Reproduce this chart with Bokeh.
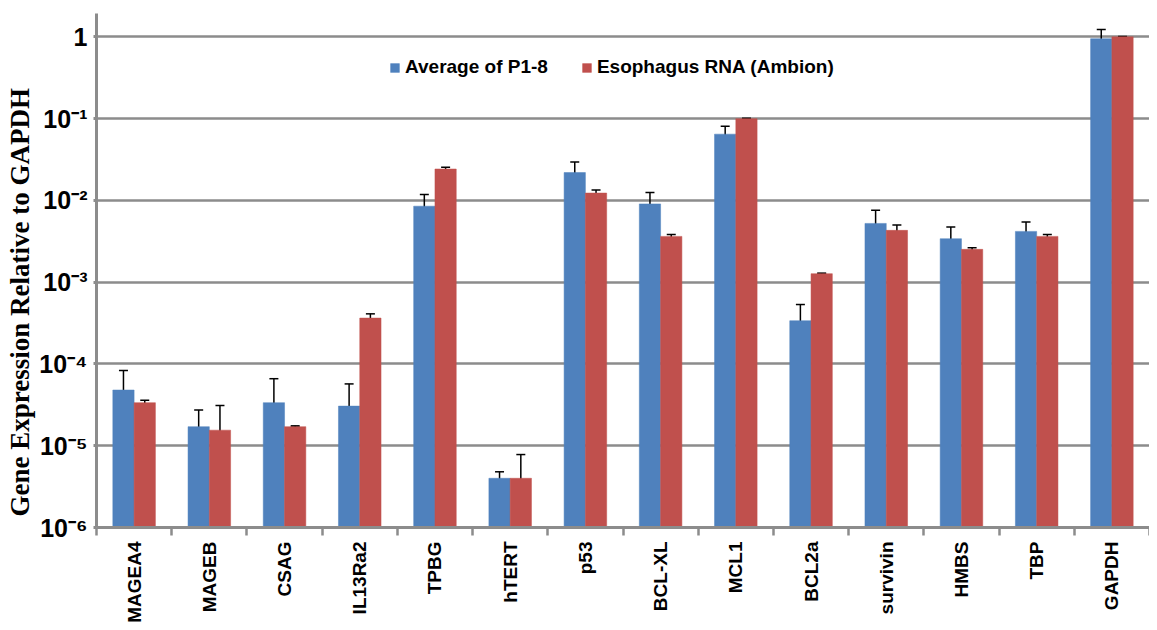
import math
from bokeh.plotting import figure
from bokeh.models import (Range1d, FixedTicker, CustomJSTickFormatter, Whisker, TeeHead,
                          ColumnDataSource, Title)
from bokeh.embed import file_html
from bokeh.resources import INLINE

# ---------------- data ----------------
genes = ["MAGEA4", "MAGEB", "CSAG", "IL13Ra2", "TPBG", "hTERT", "p53", "BCL-XL",
         "MCL1", "BCL2a", "survivin", "HMBS", "TBP", "GAPDH"]

avg_p18 = [4.8e-5, 1.71e-5, 3.36e-5, 3.05e-5, 8.5e-3, 4.0e-6, 2.19e-2, 9.06e-3,
           6.46e-2, 3.38e-4, 5.23e-3, 3.4e-3, 4.18e-3, 0.95]
avg_p18_hi = [8.3e-5, 2.73e-5, 6.6e-5, 5.7e-5, 1.18e-2, 4.8e-6, 2.94e-2, 1.25e-2,
              8.07e-2, 5.33e-4, 7.6e-3, 4.72e-3, 5.43e-3, 1.23]
avg_p18_lo = [1.04e-5, 7.8e-6, 2.0e-6, 4.2e-6, 5.1e-3, 3.3e-6, 1.38e-2, 5.4e-3,
              4.7e-2, 1.39e-4, 2.79e-3, 2.02e-3, 2.71e-3, 0.68]

esophagus = [3.36e-5, 1.55e-5, 1.71e-5, 3.64e-4, 2.42e-2, 4.0e-6, 1.23e-2, 3.63e-3,
             0.1, 1.27e-3, 4.3e-3, 2.52e-3, 3.63e-3, 1.0]
esophagus_hi = [3.6e-5, 3.1e-5, 1.75e-5, 4.1e-4, 2.54e-2, 7.8e-6, 1.34e-2, 3.83e-3,
                0.101, 1.29e-3, 5.0e-3, 2.63e-3, 3.83e-3, 1.01]
# 0.0 = lower error limit falls below the bottom of the axis
esophagus_lo = [3.2e-5, 0.0, 1.69e-5, 3.1e-4, 2.2e-2, 0.0, 1.13e-2, 3.35e-3,
                0.099, 1.25e-3, 3.6e-3, 2.34e-3, 3.35e-3, 0.99]

y_ticks = [1e-6, 1e-5, 1e-4, 1e-3, 1e-2, 1e-1, 1.0]
y_tick_labels = ["10\u207b\u2076", "10\u207b\u2075", "10\u207b\u2074", "10\u207b\u00b3",
                 "10\u207b\u00b2", "10\u207b\u00b9", "1"]

series_names = ["Average of P1-8", "Esophagus RNA (Ambion)"]
series_colors = ["#4F81BD", "#C0504D"]
y_title = "Gene Expression Relative to GAPDH"

# ---------------- figure ----------------
Y_MIN, Y_MAX = 1e-6, 1.93
GRAY = "#8c8c8c"
n = len(genes)
bar_w = 0.283

p = figure(width=1149, height=625, x_range=Range1d(0, n), y_range=Range1d(Y_MIN, Y_MAX),
           y_axis_type="log", output_backend="svg", toolbar_location=None,
           min_border_left=92, min_border_right=0, min_border_top=13, min_border_bottom=96)
p.outline_line_color = None
p.background_fill_color = "white"
p.border_fill_color = "white"

centers = [i + 0.5 for i in range(n)]
series = [(avg_p18, avg_p18_hi, avg_p18_lo, -bar_w / 2),
          (esophagus, esophagus_hi, esophagus_lo, bar_w / 2)]

for (vals, hi, lo, off), name, col in zip(series, series_names, series_colors):
    xs = [c + off for c in centers]
    src = ColumnDataSource(dict(x=xs, top=vals, bottom=[Y_MIN] * n))
    p.vbar(x="x", top="top", bottom="bottom", width=bar_w, source=src,
           fill_color=col, line_color=col, line_width=0.5, legend_label=name)
    full = [i for i in range(n) if lo[i] > Y_MIN]
    clip = [i for i in range(n) if lo[i] <= Y_MIN]
    for idx, lower_head in ((full, True), (clip, False)):
        if not idx:
            continue
        wsrc = ColumnDataSource(dict(base=[xs[i] for i in idx],
                                     upper=[hi[i] for i in idx],
                                     lower=[max(lo[i], Y_MIN) for i in idx]))
        w = Whisker(base="base", upper="upper", lower="lower", source=wsrc,
                    line_color="black", line_width=1.5,
                    upper_head=TeeHead(size=9, line_color="black", line_width=1.5),
                    lower_head=TeeHead(size=9, line_color="black", line_width=1.5) if lower_head else None)
        p.add_layout(w)

# x axis
xa = p.xaxis[0]
xa.ticker = FixedTicker(ticks=centers, minor_ticks=list(range(n + 1)))
xa.formatter = CustomJSTickFormatter(args=dict(gene_names=genes),
                                     code="return gene_names[Math.floor(tick)];")
xa.major_tick_line_color = None
xa.major_tick_out = 0
xa.major_tick_in = 0
xa.minor_tick_out = 8
xa.minor_tick_in = 0
xa.minor_tick_line_color = GRAY
xa.minor_tick_line_width = 2.5
xa.axis_line_color = GRAY
xa.axis_line_width = 3
xa.major_label_orientation = math.pi / 2
xa.major_label_standoff = 6
xa.major_label_text_font = "Liberation Sans"
xa.major_label_text_font_style = "bold"
xa.major_label_text_font_size = "19px"
xa.major_label_text_color = "black"

# y axis
ya = p.yaxis[0]
ya.ticker = FixedTicker(ticks=y_ticks, minor_ticks=[])
ya.formatter = CustomJSTickFormatter(args=dict(tvals=y_ticks, tlabels=y_tick_labels), code="""
    for (let i = 0; i < tvals.length; i++) {
        if (Math.abs(Math.log10(tvals[i]) - Math.log10(tick)) < 0.01) return tlabels[i];
    }
    return "";
""")
ya.major_tick_out = 3
ya.major_tick_in = 0
ya.major_tick_line_color = GRAY
ya.major_tick_line_width = 3
ya.minor_tick_line_color = None
ya.axis_line_color = GRAY
ya.axis_line_width = 3
ya.major_label_standoff = 6
ya.major_label_text_font = "Liberation Sans"
ya.major_label_text_font_style = "bold"
ya.major_label_text_font_size = "25px"
ya.major_label_text_color = "black"

p.xgrid.grid_line_color = None
p.ygrid.grid_line_color = GRAY
p.ygrid.grid_line_width = 2.5

# y title on the left, starting a little above the x axis as in the reference
p.add_layout(Title(text=y_title, align="left", offset=11, standoff=4,
                   text_font="Liberation Serif", text_font_style="bold",
                   text_font_size="27px", text_color="black"), "left")

# legend
lg = p.legend[0]
lg.location = (293, 449)
lg.orientation = "horizontal"
lg.border_line_color = None
lg.background_fill_alpha = 0
lg.padding = 0
lg.margin = 0
lg.spacing = 33
lg.label_standoff = 5
lg.glyph_width = 11
lg.glyph_height = 11
lg.label_height = 20
lg.label_text_font = "Liberation Sans"
lg.label_text_font_style = "bold"
lg.label_text_font_size = "19px"
lg.label_text_color = "black"

open("out.html", "w").write(file_html(p, INLINE))
